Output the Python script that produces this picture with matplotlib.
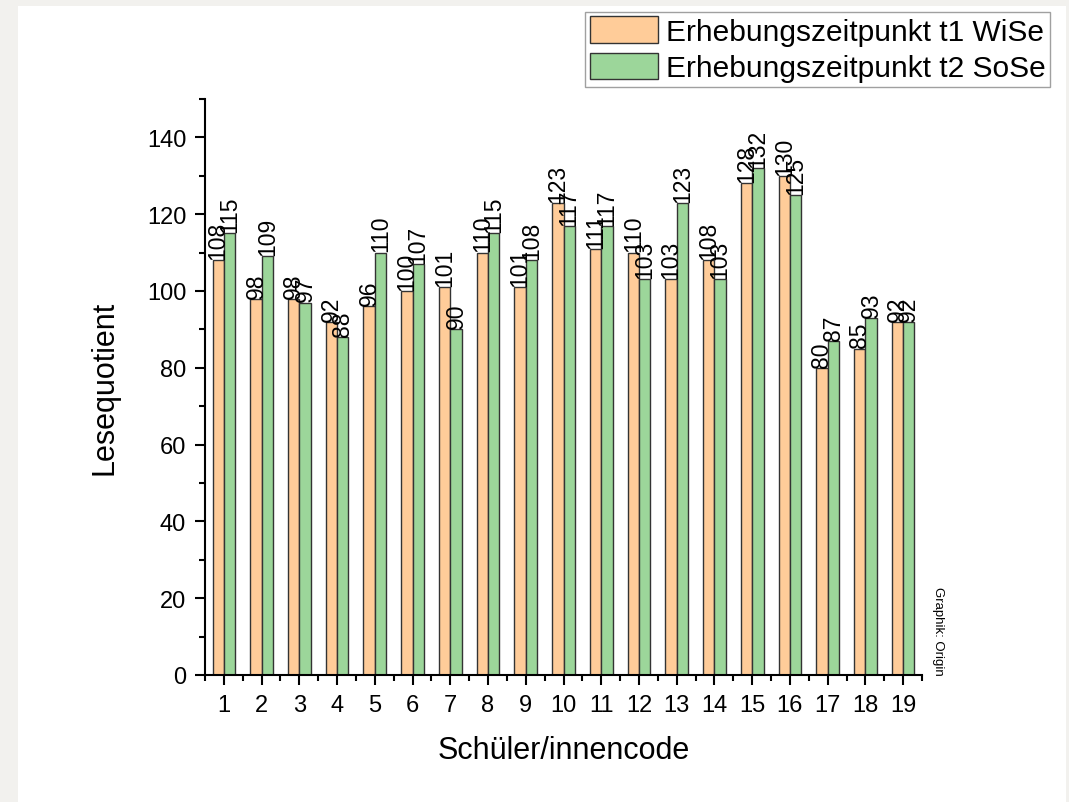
#!/usr/bin/env python3
"""
Lesequotient per student at two survey dates, grouped bar chart.
"""

import numpy as np
import matplotlib.pyplot as plt
from matplotlib.patches import Rectangle
from matplotlib.ticker import MultipleLocator

plt.rcParams["font.family"] = ["Liberation Sans", "DejaVu Sans"]

codes = [str(i) for i in range(1, 20)]
t1_wise = [108, 98, 98, 92, 96, 100, 101, 110, 101, 123, 111, 110, 103, 108, 128, 130, 80, 85, 92]
t2_sose = [115, 109, 97, 88, 110, 107, 90, 115, 108, 117, 117, 103, 123, 103, 132, 125, 87, 93, 92]
series_names = ["Erhebungszeitpunkt t1 WiSe", "Erhebungszeitpunkt t2 SoSe"]

ORANGE = "#FFCC99"
GREEN = "#9CD69A"
EDGE = "#333333"


def main() -> None:
    fig = plt.figure(figsize=(10.69, 8.03), dpi=100, facecolor="#F2F1EE")
    # white page behind the plot
    fig.patches.append(Rectangle((18 / 1069, 0), (1066 - 18) / 1069, 1 - 7 / 803,
                                 transform=fig.transFigure, facecolor="white",
                                 edgecolor="none", zorder=-5))

    ax = fig.add_axes([205 / 1069, 1 - 676 / 803, (922 - 205) / 1069, (676 - 100) / 803])
    ax.set_facecolor("none")

    x = np.arange(1, len(codes) + 1)
    w = 0.3
    b1 = ax.bar(x - w / 2, t1_wise, w, color=ORANGE, edgecolor=EDGE, linewidth=1.0,
                label=series_names[0])
    b2 = ax.bar(x + w / 2, t2_sose, w, color=GREEN, edgecolor=EDGE, linewidth=1.0,
                label=series_names[1])

    for bars, vals in ((b1, t1_wise), (b2, t2_sose)):
        for rect, v in zip(bars, vals):
            ax.text(rect.get_x() + rect.get_width() / 2, v + 0.3, f"{v}",
                    rotation=90, ha="center", va="bottom", fontsize=16.5)

    ax.set_xlim(0.5, len(codes) + 0.5)
    ax.set_ylim(0, 150)
    ax.set_xticks(x)
    ax.set_xticklabels(codes)
    ax.xaxis.set_minor_locator(MultipleLocator(1, offset=0.5))
    ax.yaxis.set_major_locator(MultipleLocator(20))
    ax.yaxis.set_minor_locator(MultipleLocator(10))
    ax.tick_params(which="major", length=7.5, width=1.5, labelsize=17, pad=6)
    ax.tick_params(which="minor", length=4, width=1.5)

    for side in ("top", "right"):
        ax.spines[side].set_visible(False)
    for side in ("left", "bottom"):
        ax.spines[side].set_linewidth(1.5)

    ax.set_ylabel("Lesequotient", fontsize=22, labelpad=20)
    ax.set_xlabel("Schüler/innencode", fontsize=22, labelpad=14)

    fig.text(938 / 1069, 1 - 631 / 803, "Graphik: Origin", rotation=-90,
             ha="center", va="center", fontsize=9.5)

    leg = fig.legend(handles=[b1, b2], loc="upper right",
                     bbox_to_anchor=(1050 / 1069, 1 - 13 / 803),
                     fontsize=21.5, frameon=True, fancybox=False,
                     handlelength=2.3, handleheight=1.0, handletextpad=0.25,
                     borderpad=0.15, labelspacing=0.22, borderaxespad=0)
    leg.get_frame().set_edgecolor("#888888")
    leg.get_frame().set_linewidth(1.0)

    fig.savefig("out.png", dpi=100, facecolor=fig.get_facecolor())


if __name__ == "__main__":
    main()
